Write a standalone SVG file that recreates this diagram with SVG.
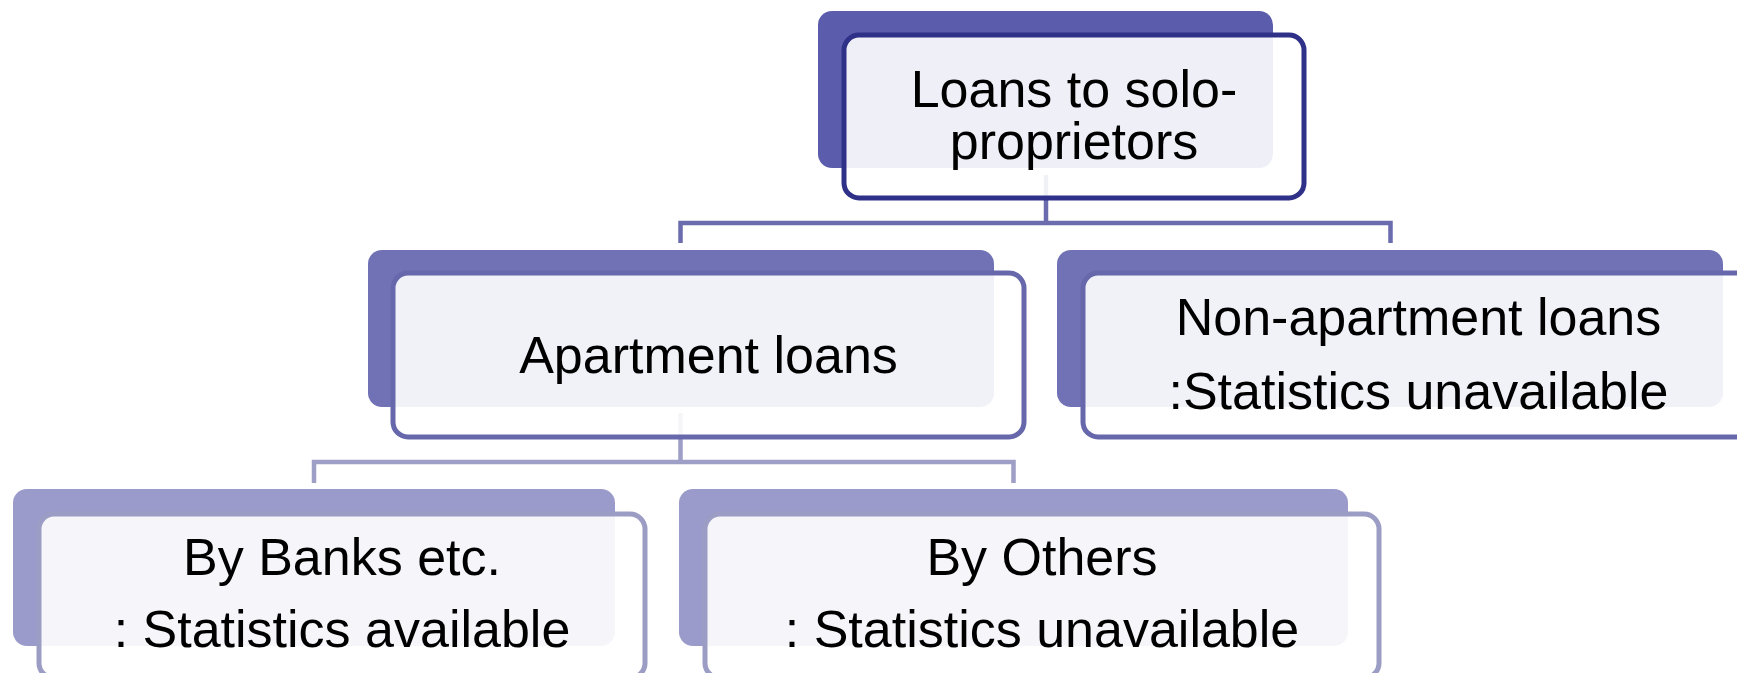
<svg xmlns="http://www.w3.org/2000/svg" width="1737" height="673" viewBox="0 0 1737 673">
<style>
text{font-family:"Liberation Sans",Arial,sans-serif;font-size:52px;fill:#000;text-anchor:middle}
.front{fill:#fff;fill-opacity:0.9;stroke-width:5}
.l1b{fill:#5b5dac}.l1f{stroke:#2f3088}
.l2b{fill:#7072b5}.l2f{stroke:#6668ab}
.l3b{fill:#9a9bca}.l3f{stroke:#9c9dc4}
.c1{fill:none;stroke:#6a6cad;stroke-width:4.5}
.c2{fill:none;stroke:#9e9fc6;stroke-width:4.5}
</style>
<rect width="1737" height="673" fill="#fff"/>
<g id="connectors">
<path class="c1" d="M1046 175V223M680.5 243V223H1390.5V243"/>
<path class="c2" d="M680.5 413V462M314 483V462H1013.5V483"/>
</g>
<g id="node-loans">
<rect class="l1b" x="818" y="11" width="455" height="157" rx="14"/>
<rect class="front l1f" x="844" y="35" width="460" height="163" rx="15"/>
<text x="1074" y="107">Loans to solo-<tspan x="1074" dy="52">proprietors</tspan></text>
</g>
<g id="node-apartment">
<rect class="l2b" x="368" y="250" width="626" height="157" rx="14"/>
<rect class="front l2f" x="393" y="273" width="631" height="164" rx="15"/>
<text x="708.5" y="373">Apartment loans</text>
</g>
<g id="node-nonapartment">
<rect class="l2b" x="1057" y="250" width="666" height="157" rx="14"/>
<rect class="front l2f" x="1083" y="273" width="671" height="164" rx="15"/>
<text x="1418.5" y="335">Non-apartment loans</text>
<text x="1418.5" y="409">:Statistics unavailable</text>
</g>
<g id="node-banks">
<rect class="l3b" x="13" y="489" width="602" height="157" rx="14"/>
<rect class="front l3f" x="39" y="514" width="606" height="164" rx="15"/>
<text x="342" y="575">By Banks etc.</text>
<text x="342" y="647">: Statistics available</text>
</g>
<g id="node-others">
<rect class="l3b" x="679" y="489" width="669" height="157" rx="14"/>
<rect class="front l3f" x="705" y="514" width="674" height="164" rx="15"/>
<text x="1042" y="575">By Others</text>
<text x="1042" y="647">: Statistics unavailable</text>
</g>
</svg>
